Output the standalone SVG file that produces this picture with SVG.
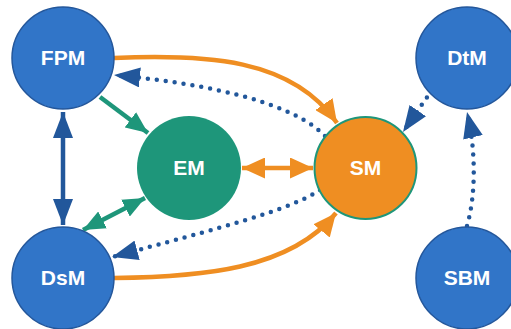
<svg xmlns="http://www.w3.org/2000/svg" width="511" height="329" viewBox="0 0 511 329">
<style>
.blue{fill:#3175C8;stroke:#24579B;stroke-width:1.5}
.green{fill:#1E967A}
.orange{fill:#EF8E22;stroke:#1E967A;stroke-width:2}
.lbl{font-family:"Liberation Sans",Arial,sans-serif;font-weight:bold;font-size:21px;fill:#fff;text-anchor:middle}
.eo{fill:none;stroke:#EF8E22;stroke-width:4.5}
.eg{fill:none;stroke:#1E967A;stroke-width:4.5}
.eb{fill:none;stroke:#22579B;stroke-width:4.5}
.ed{fill:none;stroke:#22579B;stroke-width:4.5;stroke-linecap:round;stroke-dasharray:0 9}
</style>
<defs>
<marker id="ao" viewBox="0 0 23 21" refX="23" refY="10.5" markerWidth="23" markerHeight="21" markerUnits="userSpaceOnUse" orient="auto-start-reverse"><path d="M0,0 L23,10.5 L0,21 z" fill="#EF8E22"/></marker>
<marker id="ag" viewBox="0 0 22 19" refX="22" refY="9.5" markerWidth="22" markerHeight="19" markerUnits="userSpaceOnUse" orient="auto-start-reverse"><path d="M0,0 L22,9.5 L0,19 z" fill="#1E967A"/></marker>
<marker id="ab" viewBox="0 0 26 20" refX="26" refY="10" markerWidth="26" markerHeight="20" markerUnits="userSpaceOnUse" orient="auto-start-reverse"><path d="M0,0 L26,10 L0,20 z" fill="#22579B"/></marker>
</defs>
<g id="connectors">
<path class="eo" d="M114,58 C205,54 292,58 337,123" marker-end="url(#ao)"/>
<path class="ed" d="M325,136 C295,105 220,85 114,75" marker-end="url(#ab)"/>
<path class="eg" d="M100,97 L148,133" marker-end="url(#ag)"/>
<path class="eb" d="M63,112 L63,225" marker-start="url(#ab)" marker-end="url(#ab)"/>
<path class="eg" d="M145,198 L83,230" marker-start="url(#ag)" marker-end="url(#ag)"/>
<path class="eo" d="M242,168 L313,168" marker-start="url(#ao)" marker-end="url(#ao)"/>
<path class="ed" d="M320,190 C290,210 220,228 112,257" marker-end="url(#ab)"/>
<path class="eo" d="M114,278 C200,277 290,270 336,213" marker-end="url(#ao)"/>
<path class="ed" d="M432,90 L403,132" marker-end="url(#ab)"/>
<path class="ed" d="M467,226 C476,195 476,150 467,112" marker-end="url(#ab)"/>
</g>
<g id="FPM"><circle class="blue" cx="63" cy="58" r="51"/><text class="lbl" x="63" y="65">FPM</text></g>
<g id="EM"><circle class="green" cx="189" cy="168" r="52"/><text class="lbl" x="189" y="175">EM</text></g>
<g id="SM"><circle class="orange" cx="365.5" cy="168" r="51"/><text class="lbl" x="365.5" y="175">SM</text></g>
<g id="DtM"><circle class="blue" cx="467" cy="58" r="51"/><text class="lbl" x="467" y="65">DtM</text></g>
<g id="DsM"><circle class="blue" cx="63" cy="278" r="51"/><text class="lbl" x="63" y="285">DsM</text></g>
<g id="SBM"><circle class="blue" cx="467" cy="278" r="51"/><text class="lbl" x="467" y="285">SBM</text></g>
</svg>
